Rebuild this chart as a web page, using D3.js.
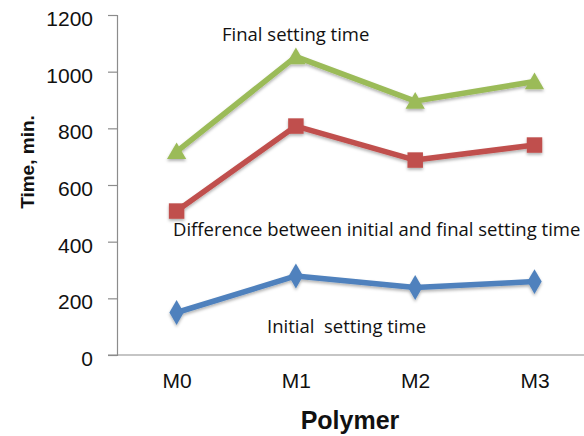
<!DOCTYPE html>
<html>
<head>
<meta charset="utf-8">
<script src="https://cdn.jsdelivr.net/npm/d3@7"></script>
<style>
  html, body { margin: 0; padding: 0; background: #fff; overflow: hidden; }
  svg { display: block; }
</style>
</head>
<body>
<svg id="chart" width="584" height="436"></svg>
<script>
// Setting times of the polymer mixes (minutes)
const categories = ["M0", "M1", "M2", "M3"];
const finalSetting = [718, 1053, 896, 965];
const difference = [508, 808, 688, 741];
const initialSetting = [150, 279, 238, 259];
const yTicks = [0, 200, 400, 600, 800, 1000, 1200];

const series = [
  { name: "Final setting time", values: finalSetting, color: "#9bbb59", marker: "triangle",
    label: "Final setting time", lx: 222, ly: 41 },
  { name: "Difference", values: difference, color: "#c0504d", marker: "square",
    label: "Difference between initial and final setting time", lx: 173, ly: 236 },
  { name: "Initial setting time", values: initialSetting, color: "#4f81bd", marker: "diamond",
    label: "Initial  setting time", lx: 267, ly: 333 }
];

const svg = d3.select("#chart");
const margin = { left: 117, top: 15, bottom: 81 };
const plotBottom = 436 - margin.bottom;

const x = d3.scalePoint()
  .domain(categories)
  .range([117 + 59.6, 117 + 59.6 + 3 * 119.3]);

const y = d3.scaleLinear()
  .domain([0, 1200])
  .range([plotBottom, margin.top]);

// soft drop shadow under lines and markers
const defs = svg.append("defs");
const f = defs.append("filter").attr("id", "shadow")
  .attr("x", "-20%").attr("y", "-20%").attr("width", "140%").attr("height", "160%");
f.append("feDropShadow").attr("dx", 0).attr("dy", 2).attr("stdDeviation", 1.5)
  .attr("flood-color", "#000").attr("flood-opacity", 0.3);

// y axis
const yAxis = svg.append("g")
  .attr("transform", `translate(${margin.left},0)`)
  .call(d3.axisLeft(y).tickValues(yTicks).tickSize(9).tickPadding(15).tickFormat(d3.format("d")));
yAxis.select(".domain").attr("stroke", "#8c8c8c").attr("stroke-width", 1.2);
yAxis.selectAll(".tick line").attr("stroke", "#8c8c8c").attr("stroke-width", 1.2);
yAxis.selectAll(".tick text")
  .attr("font-family", "Liberation Sans, Arial, sans-serif")
  .attr("font-size", 21).attr("fill", "#111")
  .attr("dy", "0.5em");

// x axis (baseline only, labels under each category)
svg.append("line")
  .attr("x1", margin.left - 9).attr("x2", 584)
  .attr("y1", plotBottom).attr("y2", plotBottom)
  .attr("stroke", "#8c8c8c").attr("stroke-width", 1.2);

const xAxis = svg.append("g")
  .attr("transform", `translate(0,${plotBottom})`)
  .call(d3.axisBottom(x).tickSize(0).tickPadding(18));
xAxis.select(".domain").remove();
xAxis.selectAll(".tick text")
  .attr("font-family", "Liberation Sans, Arial, sans-serif")
  .attr("font-size", 21).attr("fill", "#111");

// axis titles
svg.append("text")
  .attr("x", 350).attr("y", 429)
  .attr("text-anchor", "middle")
  .attr("font-family", "Liberation Sans, Arial, sans-serif")
  .attr("font-weight", "bold").attr("font-size", 25).attr("fill", "#111")
  .text("Polymer");

svg.append("text")
  .attr("transform", "translate(34,162) rotate(-90)")
  .attr("text-anchor", "middle")
  .attr("font-family", "Liberation Sans, Arial, sans-serif")
  .attr("font-weight", "bold").attr("font-size", 19).attr("fill", "#111")
  .text("Time, min.");

const line = d3.line()
  .x((d, i) => x(categories[i]))
  .y(d => y(d));

const symbolFor = {
  triangle: d3.symbol().type(d3.symbolTriangle).size(160),
  square: d3.symbol().type(d3.symbolSquare).size(240),
  diamond: d3.symbol().type(d3.symbolDiamond).size(180)
};

series.forEach(s => {
  const g = svg.append("g").attr("filter", "url(#shadow)");
  g.append("path")
    .datum(s.values)
    .attr("d", line)
    .attr("fill", "none")
    .attr("stroke", s.color)
    .attr("stroke-width", 5.5)
    .attr("stroke-linejoin", "round");
  g.selectAll("path.marker")
    .data(s.values)
    .join("path")
    .attr("class", "marker")
    .attr("d", symbolFor[s.marker])
    .attr("transform", (d, i) => {
      const dy = s.marker === "triangle" ? 2 : 0;
      return `translate(${x(categories[i])},${y(d) + dy})`;
    })
    .attr("fill", s.color);

  svg.append("text")
    .attr("x", s.lx).attr("y", s.ly)
    .attr("font-family", "'Open Sans', Lato, sans-serif")
    .attr("font-size", 18.5).attr("fill", "#111")
    .style("white-space", "pre")
    .text(s.label);
});
</script>
</body>
</html>
